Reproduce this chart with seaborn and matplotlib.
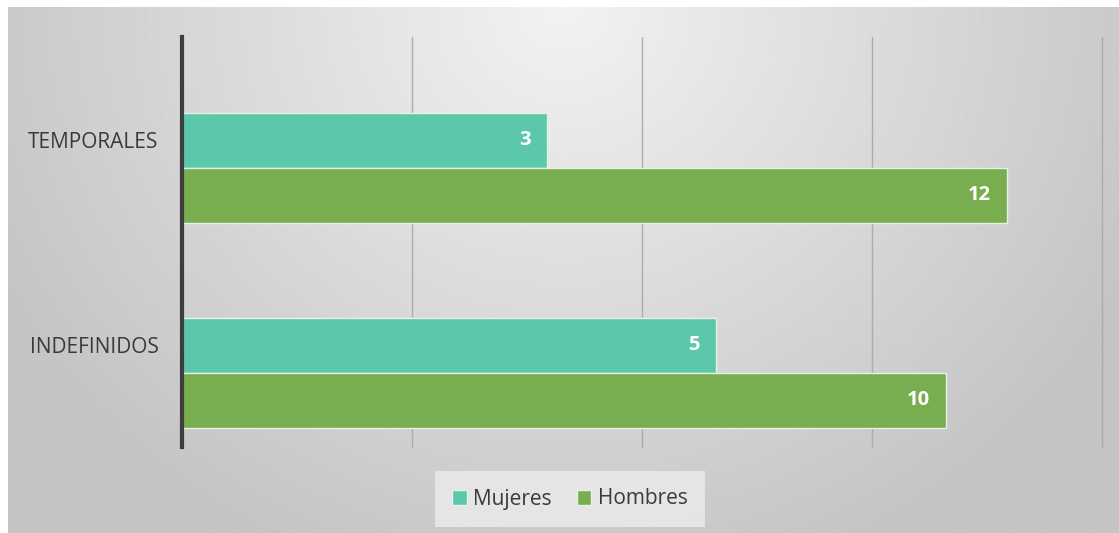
import numpy as np
import pandas as pd
import seaborn as sns
import matplotlib.pyplot as plt

# Datos del gráfico
categorias = ["TEMPORALES", "INDEFINIDOS"]
mujeres = [3, 5]
hombres = [12, 10]
series = ["Mujeres", "Hombres"]
colores = ["#5BC8AC", "#78AE50"]

df = pd.DataFrame({
    "tipo": categorias * 2,
    "sexo": ["Mujeres"] * len(categorias) + ["Hombres"] * len(categorias),
    "valor": mujeres + hombres,
})

sns.set_theme(style="white")
plt.rcParams["font.family"] = ["Open Sans", "DejaVu Sans"]

W, H = 1119, 533
fig = plt.figure(figsize=(W / 100, H / 100), dpi=100, facecolor="white")

# Fondo con degradado radial (como el estilo de Excel)
bg = fig.add_axes([8 / W, 0, (W - 8) / W, (H - 7) / H], zorder=-10)
yy, xx = np.mgrid[0:1:300j, 0:1:600j]
d = np.sqrt(((xx - 0.5) / 0.7) ** 2 + ((yy - 0.0) / 1.4) ** 2)
img = np.clip(0.95 - 0.22 * d, 0.77, 0.95)
bg.imshow(img, cmap="gray", vmin=0, vmax=1, aspect="auto", extent=[0, 1, 1, 0])
bg.set_axis_off()

ax = fig.add_axes([182 / W, 86 / H, 920 / W, 410 / H])
ax.patch.set_alpha(0)

sns.barplot(data=df, x="valor", y="tipo", hue="sexo", orient="h",
            palette=colores, saturation=1, width=0.537, ax=ax, legend=False,
            edgecolor="#e6f2e6", linewidth=1, zorder=3)

ax.set_xscale("log", base=2)
ax.set_xlim(1, 16)
ax.set_ylim(1.363, -0.637)

ax.set_xticks([2, 4, 8, 16])
ax.set_xticklabels([])
ax.xaxis.grid(True, color="#acacac", linewidth=1)
for gl in ax.get_xgridlines():
    gl.set_clip_on(False)
ax.set_axisbelow(True)
ax.tick_params(axis="both", length=0)

ax.set_yticks([i - 0.134 for i in range(len(categorias))])
ax.set_yticklabels(categorias, fontsize=15, color="#3a3a3a")
ax.tick_params(axis="y", pad=17)
ax.set_xlabel("")
ax.set_ylabel("")

for s in ["top", "right", "bottom"]:
    ax.spines[s].set_visible(False)
ax.spines["left"].set_color("#3d3d3d")
ax.spines["left"].set_linewidth(3)
ax.spines["left"].set_zorder(4)

# Etiquetas de datos
for cont, vals in zip(ax.containers, [mujeres, hombres]):
    for bar, v in zip(cont, vals):
        yc = bar.get_y() + bar.get_height() / 2
        ax.annotate(str(v), (bar.get_width(), yc), xytext=(-16, 0),
                    textcoords="offset pixels", ha="right", va="center",
                    color="white", fontsize=14.5, fontweight="bold", zorder=5)

handles = [plt.Rectangle((0, 0), 1, 1, facecolor=c, edgecolor="#e6f2e6") for c in colores]
leg = fig.legend(handles, series, loc="center", bbox_to_anchor=(570 / W, 1 - 499 / H),
                 ncol=2, frameon=True, fontsize=15, handlelength=0.7, handleheight=0.7,
                 handletextpad=0.3, columnspacing=1.2, borderpad=0.55,
                 labelcolor="#3a3a3a")
leg.get_frame().set_facecolor("#ececec")
leg.get_frame().set_edgecolor("none")
leg.get_frame().set_alpha(0.8)
leg.get_frame().set_boxstyle("square")

fig.savefig("out.png", dpi=100)
